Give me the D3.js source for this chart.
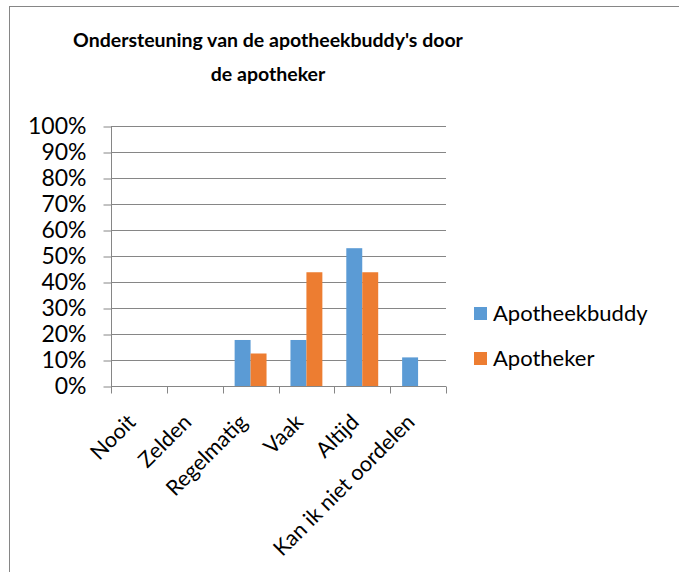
<!DOCTYPE html>
<html>
<head>
<meta charset="utf-8">
<script src="https://cdn.jsdelivr.net/npm/d3@7"></script>
<style>
  html, body { margin: 0; padding: 0; background: #fff; }
  svg { display: block; font-family: Lato, "Open Sans", sans-serif; }
</style>
</head>
<body>
<div id="chart"></div>
<script>
// --- データ ---
const categories = ["Nooit", "Zelden", "Regelmatig", "Vaak", "Altijd", "Kan ik niet oordelen"];
const seriesNames = ["Apotheekbuddy", "Apotheker"];
const apotheekbuddy = [0, 0, 0.177, 0.177, 0.53, 0.11];
const apotheker = [0, 0, 0.125, 0.4375, 0.4375, 0];
const seriesColors = ["#5B9BD5", "#ED7D31"];
const yTicks = [0, 0.1, 0.2, 0.3, 0.4, 0.5, 0.6, 0.7, 0.8, 0.9, 1];
const titleLines = ["Ondersteuning van de apotheekbuddy's door", "de apotheker"];

// --- レイアウト ---
const W = 679, H = 572;
const plot = { left: 111, right: 446, top: 126, bottom: 386 };
const axisColor = "#868686";

const svg = d3.select("#chart").append("svg")
  .attr("width", W)
  .attr("height", H);

// 外枠（右と下は画面外）
svg.append("rect")
  .attr("x", 9.5).attr("y", 6.5)
  .attr("width", 720).attr("height", 620)
  .attr("fill", "#fff")
  .attr("stroke", axisColor);

// タイトル
svg.append("text")
  .attr("x", 268).attr("y", 47)
  .attr("text-anchor", "middle")
  .style("font-weight", "bold")
  .style("font-size", "19.5px")
  .selectAll("tspan")
  .data(titleLines)
  .enter().append("tspan")
  .attr("x", 268)
  .attr("dy", (d, i) => i === 0 ? 0 : 34)
  .text(d => d);

// スケール
const x = d3.scaleBand().domain(categories).range([plot.left, plot.right]);
const y = d3.scaleLinear().domain([0, 1]).range([plot.bottom, plot.top]);
const barW = x.bandwidth() / 3.5; // gap 150%

// グリッド線
svg.append("g")
  .selectAll("line")
  .data(yTicks.filter(t => t > 0))
  .enter().append("line")
  .attr("x1", plot.left).attr("x2", plot.right)
  .attr("y1", d => Math.round(y(d)) + 0.5)
  .attr("y2", d => Math.round(y(d)) + 0.5)
  .attr("stroke", axisColor);

// Y軸
const yAxis = svg.append("g")
  .attr("transform", `translate(${plot.left + 0.5},0.5)`)
  .call(d3.axisLeft(y).tickValues(yTicks).tickFormat(d3.format(".0%")).tickSize(8).tickPadding(17));
yAxis.select(".domain").attr("stroke", axisColor).attr("d", `M0,${plot.top}V${plot.bottom}`);
yAxis.selectAll(".tick line").attr("stroke", axisColor);
yAxis.selectAll(".tick text")
  .attr("fill", "#000")
  .style("font-family", "Lato, sans-serif")
  .style("font-size", "23px");

// 棒
const series = [apotheekbuddy, apotheker];
series.forEach((vals, si) => {
  svg.append("g")
    .selectAll("rect")
    .data(categories.map((c, i) => ({ c, v: vals[i] })).filter(d => d.v > 0))
    .enter().append("rect")
    .attr("x", d => x(d.c) + x.bandwidth() / 2 - barW + si * barW)
    .attr("width", barW)
    .attr("y", d => y(d.v))
    .attr("height", d => y(0) - y(d.v))
    .attr("fill", seriesColors[si]);
});

// X軸
const xAxisG = svg.append("g")
  .attr("transform", `translate(0,${plot.bottom + 0.5})`);
xAxisG.append("line")
  .attr("x1", plot.left).attr("x2", plot.right)
  .attr("stroke", axisColor);
xAxisG.selectAll(".xtick")
  .data(categories.map(c => x(c)).concat([plot.right]))
  .enter().append("line")
  .attr("x1", d => Math.round(d) + 0.5).attr("x2", d => Math.round(d) + 0.5)
  .attr("y1", 0).attr("y2", 7)
  .attr("stroke", axisColor);
xAxisG.selectAll(".xlabel")
  .data(categories)
  .enter().append("text")
  .attr("text-anchor", "end")
  .attr("transform", d => `translate(${x(d) + x.bandwidth() / 2 - 2},${37}) rotate(-45)`)
  .style("font-size", "21.5px")
  .attr("fill", "#000")
  .text(d => d);

// 凡例
const legend = svg.append("g")
  .selectAll("g")
  .data(seriesNames)
  .enter().append("g")
  .attr("transform", (d, i) => `translate(474,${307 + i * 45})`);
legend.append("rect")
  .attr("width", 13).attr("height", 13)
  .attr("fill", (d, i) => seriesColors[i]);
legend.append("text")
  .attr("x", 19).attr("y", 13.5)
  .style("font-size", "22px")
  .attr("fill", "#000")
  .text(d => d);
</script>
</body>
</html>
